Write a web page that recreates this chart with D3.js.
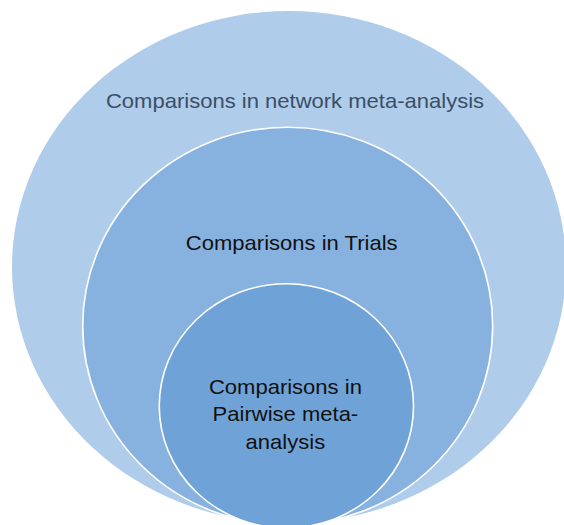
<!DOCTYPE html>
<html>
<head>
<meta charset="utf-8">
<script src="https://cdn.jsdelivr.net/npm/d3@7/dist/d3.min.js"></script>
<style>
  html, body { margin: 0; padding: 0; background: #ffffff; }
  svg { display: block; }
</style>
</head>
<body>
<svg id="chart" width="564" height="525"></svg>
<script>
// Nested levels (outer to inner)
const levels = ["Comparisons in network meta-analysis", "Comparisons in Trials", "Comparisons in Pairwise meta-analysis"];
// Label lines as they wrap in the picture
const labelLines = [
  ["Comparisons in network meta-analysis"],
  ["Comparisons in Trials"],
  ["Comparisons in", "Pairwise meta-", "analysis"]
];
// Relative horizontal and vertical extent of each ellipse (outer = 1)
const sizeX = [1.0, 0.74, 0.459];
const sizeY = [1.0, 0.777, 0.477];
const fills = ["#AFCCEA", "#87B2DF", "#6FA2D6"];
const textColors = ["#3A4F66", "#111111", "#111111"];

const svg = d3.select("#chart");

// Scales: unit space -> pixels
const centerX = 289;
const bottoms = [523, 525, 528];
const xs = d3.scaleLinear().domain([0, 1]).range([0, 277]);   // horizontal radius
const ys = d3.scaleLinear().domain([0, 1]).range([0, 256]);   // vertical radius

const data = levels.map((name, i) => ({
  name, i,
  rx: xs(sizeX[i]),
  ry: ys(sizeY[i]),
  lines: labelLines[i]
}));
data.forEach(d => {
  d.cx = centerX - d.i * 1.3;
  d.cy = bottoms[d.i] - d.ry;
  d.top = d.cy - d.ry;
});

svg.selectAll("ellipse.level")
  .data(data)
  .join("ellipse")
  .attr("class", "level")
  .attr("cx", d => d.cx)
  .attr("cy", d => d.cy)
  .attr("rx", d => d.rx)
  .attr("ry", d => d.ry)
  .attr("fill", (d, i) => fills[i])
  .attr("stroke", (d, i) => i === 0 ? "none" : "#ffffff")
  .attr("stroke-width", 1.6);

// Label layout
const baselineOffset = [97, 123, 110];
const dxs = [6, 4, -1];
const lineH = 27.5;
const stretch = 1.075;

const labels = svg.selectAll("text.label")
  .data(data)
  .join("text")
  .attr("class", "label")
  .attr("text-anchor", "middle")
  .attr("font-family", "'Liberation Sans', Arial, sans-serif")
  .attr("font-size", 20.5)
  .attr("fill", (d, i) => textColors[i])
  .attr("transform", d => `translate(${d.cx + dxs[d.i]},0) scale(${stretch},1)`);

labels.selectAll("tspan")
  .data(d => d.lines.map((t, k) => ({ t, k, d })))
  .join("tspan")
  .attr("x", 0)
  .attr("y", o => o.d.top + baselineOffset[o.d.i] + o.k * lineH)
  .text(o => o.t);
</script>
</body>
</html>
